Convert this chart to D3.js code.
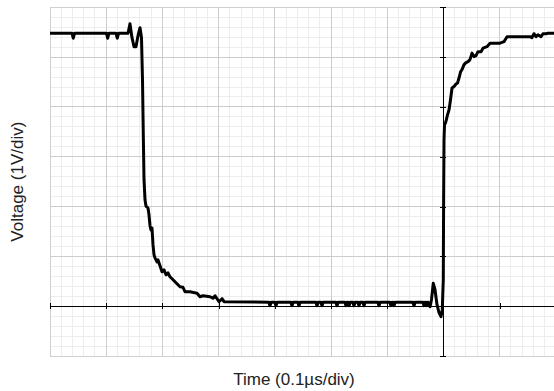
<!DOCTYPE html>
<html>
<head>
<meta charset="utf-8">
<script src="https://cdn.jsdelivr.net/npm/d3@7"></script>
<style>
  html, body { margin: 0; padding: 0; background: #fff; }
  svg { display: block; }
</style>
</head>
<body>
<svg id="chart" width="554" height="391"></svg>
<script>
// ---- data (time in ns, 0.1 µs/div ; voltage in V, 1 V/div) ----
const timeNs = [
  -700, -661, -658.6, -656.3, -599.5, -597.4, -595, -582.6, -580.3, -578,
  -561.2, -557.7, -554.1, -550.5, -547, -543.4, -539.8, -537.2, -535.4, -534,
  -532.7, -530.9, -529.2, -525.6, -523.8, -522, -520.3, -518.5, -516.7, -514.9,
  -513.2, -509.6, -507.8, -504.3, -500.7, -497.1, -493.6, -490, -486.5, -481.1,
  -474, -468.7, -463.4, -459.8, -450.9, -438.4, -433.1, -427.7, -415.3, -409.9,
  -406.3, -402.8, -399.2, -393.9, -390.3,
  -310.6, -308.6, -306.6, -299.9, -297.9, -295.9, -271.4, -269.4, -267.4,
  -259, -257, -255, -226.9, -224.9, -222.9, -218, -216, -214,
  -191.3, -189.3, -187.3, -175.3, -173.3, -171.3, -169.9, -167.9, -165.9,
  -161.1, -159.1, -157.1, -152.2, -150.2, -148.2, -143.3, -141.3, -139.3,
  -116.6, -114.6, -112.6, -95.3, -93.3, -91.3, -89.9, -87.9, -85.9,
  -54.3, -52.3, -50.3, -36.5, -34.5, -32.5, -31.2, -29.2, -27.4,
  -23.8, -21.2, -18, -14.9, -11.4, -7.8, -4.3, -2, -0.2, 0.4,
  1.1, 2, 3.7, 5.2, 7.3, 10, 12.6, 15.3, 18.9, 22.4,
  25.1, 27.8, 30.4, 33.1, 36.7, 40.2, 43.8, 47.3, 50.9, 54.4,
  58, 61.6, 66.9, 70.5, 77.6, 83, 100.7, 107.8, 113.2, 154.1,
  157.6, 161.2, 164.8, 168.3, 173.7, 177.2, 182.6, 186.1, 200
];
const voltage = [
  5.48, 5.48, 5.38, 5.48, 5.48, 5.38, 5.48, 5.48, 5.38, 5.48,
  5.48, 5.67, 5.39, 5.21, 5.21, 5.43, 5.59, 5.39, 4.54, 3.44,
  2.54, 2.13, 2.01, 1.97, 1.83, 1.61, 1.53, 1.57, 1.23, 1.03,
  0.97, 0.89, 0.93, 0.81, 0.69, 0.73, 0.63, 0.67, 0.59, 0.53,
  0.45, 0.39, 0.38, 0.29, 0.29, 0.26, 0.19, 0.21, 0.19, 0.16,
  0.21, 0.15, 0.09, 0.15, 0.09,
  0.08, 0.01, 0.08, 0.08, 0.01, 0.08, 0.08, 0.01, 0.08,
  0.08, 0.01, 0.08, 0.08, 0.01, 0.08, 0.08, 0.01, 0.08,
  0.08, 0.01, 0.08, 0.08, 0.01, 0.08, 0.08, 0.01, 0.08,
  0.08, 0.01, 0.08, 0.08, 0.01, 0.08, 0.08, 0.01, 0.08,
  0.08, 0.01, 0.08, 0.08, 0.01, 0.08, 0.08, 0.01, 0.08,
  0.08, 0.01, 0.08, 0.08, 0.01, 0.08, 0.08, 0.01, 0.08,
  -0.01, 0.13, 0.46, 0.33, 0.03, -0.13, -0.21, -0.07, 0.53, 2.13,
  3.34, 3.64, 3.68, 3.74, 3.84, 3.94, 4.14, 4.38, 4.41, 4.46,
  4.48, 4.58, 4.70, 4.75, 4.85, 4.89, 4.91, 4.95, 5.08, 5.01,
  5.03, 5.11, 5.11, 5.18, 5.21, 5.28, 5.28, 5.31, 5.41, 5.41,
  5.39, 5.47, 5.41, 5.45, 5.41, 5.47, 5.47, 5.48, 5.48
];
const timeMajorTicks = [-700, -600, -500, -400, -300, -200, -100, 0, 100, 200];
const voltMajorTicks = [-1, 0, 1, 2, 3, 4, 5, 6];
const xLabel = "Time (0.1\u00b5s/div)";
const yLabel = "Voltage (1V/div)";

// ---- layout ----
const margin = { left: 50, top: 7.3 };
const plotW = 505.8, plotH = 348.7;

const svg = d3.select("#chart");
const x = d3.scaleLinear().domain([-700, 200]).range([0, plotW]);
const y = d3.scaleLinear().domain([-1, 6]).range([plotH, 0]);

const g = svg.append("g").attr("transform", `translate(${margin.left},${margin.top})`);

// minor grid
const minorT = d3.range(-700, 200.001, 20);
const minorV = d3.range(-1, 6.001, 0.2);
g.append("g").selectAll("line").data(minorT).join("line")
  .attr("x1", d => x(d)).attr("x2", d => x(d)).attr("y1", 0).attr("y2", plotH)
  .attr("stroke", "#ededed").attr("stroke-width", 1).attr("shape-rendering", "crispEdges");
g.append("g").selectAll("line").data(minorV).join("line")
  .attr("y1", d => y(d)).attr("y2", d => y(d)).attr("x1", 0).attr("x2", plotW)
  .attr("stroke", "#ededed").attr("stroke-width", 1).attr("shape-rendering", "crispEdges");
// major grid
g.append("g").selectAll("line").data(timeMajorTicks).join("line")
  .attr("x1", d => x(d)).attr("x2", d => x(d)).attr("y1", 0).attr("y2", plotH)
  .attr("stroke", "#cccccc").attr("stroke-width", 1).attr("shape-rendering", "crispEdges");
g.append("g").selectAll("line").data(voltMajorTicks).join("line")
  .attr("y1", d => y(d)).attr("y2", d => y(d)).attr("x1", 0).attr("x2", plotW)
  .attr("stroke", "#cccccc").attr("stroke-width", 1).attr("shape-rendering", "crispEdges");
// border
g.append("rect").attr("x", 0).attr("y", 0).attr("width", plotW).attr("height", plotH)
  .attr("fill", "none").attr("stroke", "#d0d0d0").attr("shape-rendering", "crispEdges");

// axes through origin
const xAxis = g.append("g").attr("transform", `translate(0,${y(0)})`)
  .call(d3.axisBottom(x).tickValues(timeMajorTicks).tickSize(3).tickSizeOuter(0).tickFormat(""));
xAxis.selectAll(".tick line").attr("y1", -3).attr("y2", 3);
const yAxis = g.append("g").attr("transform", `translate(${x(0)},0)`)
  .call(d3.axisLeft(y).tickValues(voltMajorTicks).tickSize(3).tickSizeOuter(0).tickFormat(""));
yAxis.selectAll(".tick line").attr("x1", -3).attr("x2", 3);
g.selectAll(".domain, .tick line").attr("stroke", "#000").attr("shape-rendering", "crispEdges");

// trace
g.append("clipPath").attr("id", "clip").append("rect")
  .attr("width", plotW).attr("height", plotH);
const pts = timeNs.map((t, i) => [t, voltage[i]]);
g.append("path").datum(pts)
  .attr("clip-path", "url(#clip)")
  .attr("fill", "none").attr("stroke", "#000").attr("stroke-width", 3)
  .attr("stroke-linejoin", "round").attr("stroke-linecap", "round")
  .attr("d", d3.line().x(d => x(d[0])).y(d => y(d[1])));

// labels
svg.append("text").attr("x", 294).attr("y", 385)
  .attr("text-anchor", "middle").attr("font-family", "Liberation Sans, Arial, sans-serif")
  .attr("font-size", 17).attr("fill", "#222").text(xLabel);
svg.append("text")
  .attr("transform", `translate(23,${margin.top + plotH / 2}) rotate(-90)`)
  .attr("text-anchor", "middle").attr("font-family", "Liberation Sans, Arial, sans-serif")
  .attr("font-size", 17).attr("fill", "#222").text(yLabel);
</script>
</body>
</html>
